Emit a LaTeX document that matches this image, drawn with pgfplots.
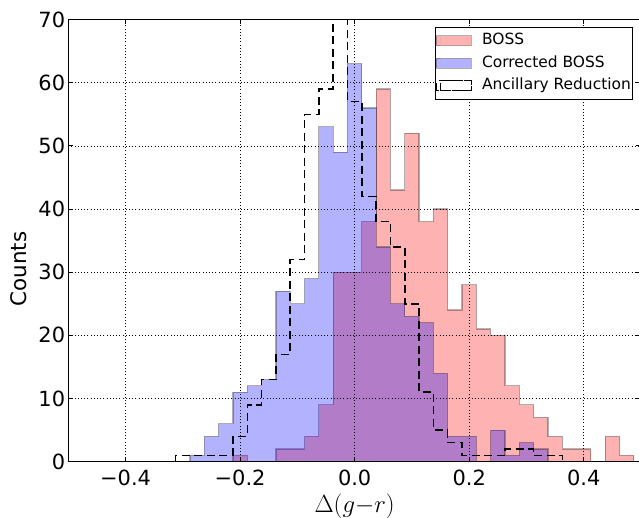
\documentclass[border=0pt]{standalone}
\usepackage{fontspec}
\setmainfont{DejaVu Sans}
\usepackage{pgfplots}
\pgfplotsset{compat=1.18}
\definecolor{hred}{rgb}{1,0,0}
\definecolor{hblue}{rgb}{0,0,1}
\definecolor{lred}{rgb}{1,0.7,0.7}
\definecolor{lblue}{rgb}{0.7,0.7,1}
\definecolor{edgegray}{rgb}{0.7,0.7,0.7}
\begin{document}
\begin{tikzpicture}
\begin{axis}[
  name=ax,
  scale only axis,
  width=572.7bp, height=442.2bp,
  xmin=-0.5, xmax=0.5, ymin=0, ymax=70,
  xtick={-0.4,-0.2,0,0.2,0.4},
  xticklabels={−0.4,−0.2,0.0,0.2,0.4},
  ytick={0,10,20,30,40,50,60,70},
  yticklabels={0,10,20,30,40,50,60,70},
  tick align=inside,
  xtick pos=both, ytick pos=both,
  major tick length=5bp,
  tick style={black, line width=0.8bp},
  tick label style={font=\fontsize{21}{25}\selectfont},
  xticklabel style={inner sep=0pt, text depth=0pt, yshift=-8.5bp},
  yticklabel style={inner sep=0pt, xshift=-3bp},
  axis line style={black, line width=1bp},
  grid=major,
  major grid style={black, line width=0.6bp, dash pattern=on 1bp off 2.2bp},
  axis on top,
  xlabel={$\Delta(g{-}r)$},
  xlabel style={font=\fontsize{23}{27}\selectfont, inner sep=0pt, at={(axis description cs:0.5,0)}, anchor=center, yshift=-44.8bp},
  ylabel={Counts},
  ylabel style={font=\fontsize{21.5}{25}\selectfont, at={(axis description cs:-0.0861,0.436)}, anchor=center},
  legend style={at={(0.9866,0.9837)}, anchor=north east, draw=black, line width=1bp,
    fill=white, font=\fontsize{15.5}{18}\selectfont, inner xsep=0bp, inner ysep=6bp,
    nodes={inner xsep=2bp, inner ysep=0pt, text height=11.5bp, text depth=3.5bp},
    row sep=7.5bp, column sep=8bp},
  legend cell align=left,
]
% BOSS
\addplot[const plot, fill=hred, fill opacity=0.3, draw=black, draw opacity=0.3, line width=1.2bp,
  legend image code/.code={\path (-4bp,-5bp) rectangle (31bp,5bp); \draw[fill=lred, draw=edgegray, line width=1.2bp] (0bp,-5bp) rectangle (31bp,5bp);}] coordinates {
(-0.2125,1) (-0.1875,0) (-0.1625,0) (-0.1375,2) (-0.1125,2) (-0.0875,4) (-0.0625,9)
(-0.0375,30) (-0.0125,30) (0.0125,38) (0.0375,59) (0.0625,43) (0.0875,52) (0.1125,38)
(0.1375,40) (0.1625,24) (0.1875,28) (0.2125,21) (0.2375,20) (0.2625,12) (0.2875,9)
(0.3125,7) (0.3375,4) (0.3625,2) (0.3875,2) (0.4125,0) (0.4375,4) (0.4625,1) (0.4875,1)
} \closedcycle;
\addlegendentry{BOSS}
% Corrected BOSS
\addplot[const plot, fill=hblue, fill opacity=0.3, draw=black, draw opacity=0.3, line width=1.2bp,
  legend image code/.code={\path (-4bp,-5bp) rectangle (31bp,5bp); \draw[fill=lblue, draw=edgegray, line width=1.2bp] (0bp,-5bp) rectangle (31bp,5bp);}] coordinates {
(-0.2875,1) (-0.2625,4) (-0.2375,6) (-0.2125,11) (-0.1875,12) (-0.1625,13) (-0.1375,27)
(-0.1125,25) (-0.0875,29) (-0.0625,53) (-0.0375,49) (-0.0125,63) (0.0125,56) (0.0375,34)
(0.0625,25) (0.0875,23) (0.1125,22) (0.1375,14) (0.1625,4) (0.1875,4) (0.2125,0)
(0.2375,5) (0.2625,1) (0.2875,3) (0.3125,2) (0.3375,2)
} \closedcycle;
\addlegendentry{Corrected BOSS}
% Ancillary Reduction
\addplot[const plot, draw=black, line width=1.5bp, dash pattern=on 8bp off 4.5bp,
  legend image code/.code={\path (-4bp,-5bp) rectangle (31bp,5bp); \draw[draw=black, line width=1.5bp, dash pattern=on 8bp off 4.5bp] (0bp,-5bp) rectangle (31bp,5bp);}] coordinates {
(-0.3125,0) (-0.3125,1) (-0.2875,1) (-0.2625,1) (-0.2375,1) (-0.2125,4) (-0.1875,9)
(-0.1625,13) (-0.1375,17) (-0.1125,32) (-0.0875,55) (-0.0625,59) (-0.0375,75)
(-0.0125,57) (0.0125,42) (0.0375,38) (0.0625,34) (0.0875,25) (0.1125,11) (0.1375,5)
(0.1625,3) (0.1875,1) (0.2125,1) (0.2375,1) (0.2625,2) (0.2875,2) (0.3125,1)
(0.3375,1) (0.3625,1) (0.3625,0)
};
\addlegendentry{Ancillary Reduction}
\end{axis}
\pgfresetboundingbox
\useasboundingbox ([shift={(-68.3bp,-56.3bp)}]ax.south west) rectangle ([shift={(570.7bp,19.5bp)}]ax.north west);
\end{tikzpicture}
\end{document}
